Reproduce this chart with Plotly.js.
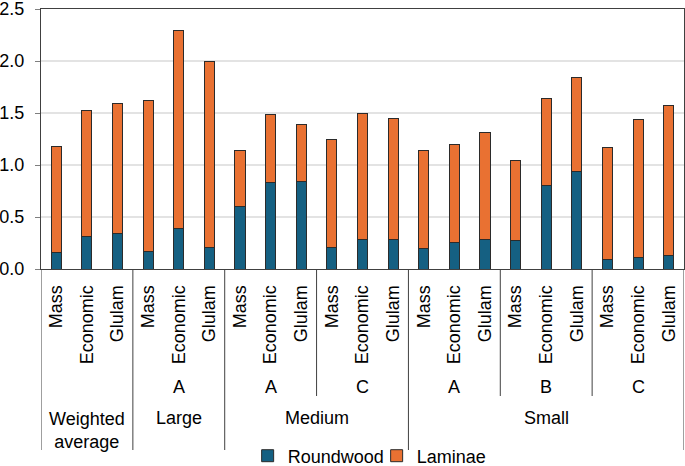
<!DOCTYPE html>
<html>
<head>
<meta charset="utf-8">
<script src="https://cdn.plot.ly/plotly-3.0.1.min.js"></script>
<style>html,body{margin:0;padding:0;background:#fff;}#chart{width:685px;height:466px;}</style>
</head>
<body>
<div id="chart"></div>
<script>
// Data
var scenarios = ["Mass","Economic","Glulam","Mass","Economic","Glulam","Mass","Economic","Glulam","Mass","Economic","Glulam","Mass","Economic","Glulam","Mass","Economic","Glulam","Mass","Economic","Glulam"];
var regions = ["", "A", "A", "C", "A", "B", "C"];
var sizeGroups = ["Weighted<br>average", "Large", "Medium", "Small"];
var sizeGroupSpan = [[0,2],[3,5],[6,11],[12,20]];
var roundwood = [0.16,0.31,0.345,0.166,0.39,0.21,0.605,0.83,0.84,0.205,0.285,0.288,0.20,0.252,0.284,0.275,0.80,0.94,0.093,0.112,0.131];
var totals =    [1.175,1.52,1.594,1.625,2.297,1.998,1.142,1.488,1.393,1.243,1.498,1.447,1.144,1.198,1.313,1.042,1.644,1.842,1.173,1.441,1.575];
var laminae = totals.map(function(t,i){return +(t - roundwood[i]).toFixed(3);});

var xs = scenarios.map(function(_,i){return i;});
var font = "Liberation Sans, Arial, sans-serif";
var fs = 18;
var lineCol = "#404040";

var traces = [
  {type:"bar", name:"Roundwood", x:xs, y:roundwood, width:0.33,
   marker:{color:"#156082", line:{color:"#2b2b2b", width:1}}},
  {type:"bar", name:"Laminae", x:xs, y:laminae, width:0.33,
   marker:{color:"#E97132", line:{color:"#2b2b2b", width:1}}}
];

var plotH = 260;
var pxToPaper = function(py){ return (269 - py)/plotH; };
var annotations = [];
var shapes = [];

regions.forEach(function(r,g){
  if(!r) return;
  annotations.push({xref:"x", yref:"paper", x:g*3+1, y:pxToPaper(387), text:r,
    showarrow:false, xanchor:"center", yanchor:"middle", font:{family:font, size:fs, color:"#000"}});
});
sizeGroups.forEach(function(s,k){
  var c = (sizeGroupSpan[k][0] + sizeGroupSpan[k][1])/2;
  var yy = s.indexOf("<br>")>=0 ? pxToPaper(430) : pxToPaper(418);
  annotations.push({xref:"x", yref:"paper", x:c, y:yy, text:s,
    showarrow:false, xanchor:"center", yanchor:"middle", font:{family:font, size:fs, color:"#000"}});
});
var longSeps = [-0.5, 2.5, 5.5, 11.5, 20.5];
var shortSeps = [8.5, 14.5, 17.5];
longSeps.forEach(function(v){
  shapes.push({type:"line", xref:"x", yref:"paper", x0:v, x1:v, y0:0, y1:pxToPaper(450), line:{color:lineCol, width:1}});
});
shortSeps.forEach(function(v){
  shapes.push({type:"line", xref:"x", yref:"paper", x0:v, x1:v, y0:0, y1:pxToPaper(396), line:{color:lineCol, width:1}});
});

var layout = {
  width:685, height:466,
  margin:{l:41, r:1, t:9, b:197, autoexpand:false},
  paper_bgcolor:"#fff", plot_bgcolor:"#fff",
  barmode:"stack",
  showlegend:true,
  font:{family:font, size:fs, color:"#000"},
  xaxis:{range:[-0.5,20.5], tickmode:"array", tickvals:xs, ticktext:scenarios, tickangle:-90,
    ticks:"", showgrid:false, zeroline:false, showline:true, linecolor:lineCol, linewidth:1, mirror:true,
    tickfont:{family:font, size:fs, color:"#000"}, ticklabelstandoff:8, automargin:false},
  yaxis:{range:[0,2.5], dtick:0.5, tick0:0, tickformat:".1f", ticks:"outside", ticklen:5, tickcolor:"#7f7f7f",
    showgrid:true, gridcolor:"#e3e3e3", gridwidth:1.5, zeroline:false, showline:true, linecolor:lineCol, linewidth:1, mirror:true,
    tickfont:{family:font, size:fs, color:"#000"}, ticklabelstandoff:7, ticklabeloverflow:"allow", automargin:false},
  legend:{orientation:"h", x:0.522, xanchor:"center", y:pxToPaper(456), yanchor:"middle",
    font:{family:font, size:fs, color:"#000"}, bgcolor:"rgba(0,0,0,0)", traceorder:"normal", entrywidth:84},
  annotations:annotations,
  shapes:shapes
};

Plotly.newPlot("chart", traces, layout, {displayModeBar:false, staticPlot:true});
</script>
</body>
</html>
